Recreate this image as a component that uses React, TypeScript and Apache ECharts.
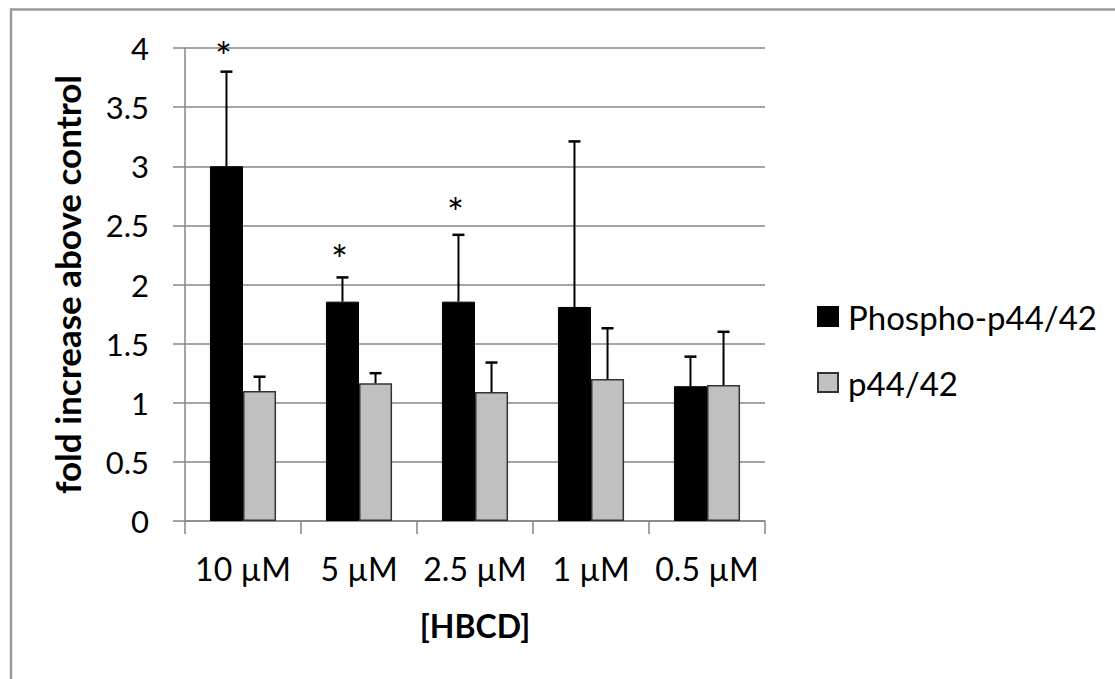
import React, { useEffect, useRef } from "react";
import * as echarts from "echarts";

const categories = ["10 µM", "5 µM", "2.5 µM", "1 µM", "0.5 µM"];
const phosphoValues = [3.0, 1.855, 1.855, 1.81, 1.14];
const phosphoErrors = [0.8, 0.205, 0.565, 1.4, 0.25];
const totalValues = [1.1, 1.165, 1.09, 1.2, 1.15];
const totalErrors = [0.12, 0.085, 0.25, 0.43, 0.45];
const significance = [4.0, 2.285, 2.68, null, null];
const yTicks = { min: 0, max: 4, interval: 0.5 };

const FONT = "Lato, 'Open Sans', sans-serif";
const CAT_GAP = 0.43;
const STAR_SIZE = 40;

function errorSeries(id: string, means: number[], errs: number[], side: number) {
  return {
    type: "custom",
    id,
    silent: true,
    z: 5,
    data: means.map((m, i) => [i, m, m + errs[i]]),
    encode: { x: 0, y: [1, 2] },
    renderItem: (_p: any, api: any) => {
      const i = api.value(0);
      const base = api.coord([i, api.value(1)]);
      const top = api.coord([i, api.value(2)]);
      const band = api.size([1, 0])[0];
      const bw = (band * (1 - CAT_GAP)) / 2;
      const x = base[0] + (side * bw) / 2;
      const cap = 6;
      return {
        type: "group",
        children: [
          { type: "line", shape: { x1: x, y1: base[1], x2: x, y2: top[1] }, style: { stroke: "#000", lineWidth: 2 } },
          { type: "line", shape: { x1: x - cap, y1: top[1], x2: x + cap, y2: top[1] }, style: { stroke: "#000", lineWidth: 2.5 } },
        ],
      };
    },
  };
}

export default function App() {
  const ref = useRef<HTMLDivElement>(null);
  useEffect(() => {
    document.body.style.margin = "0";
    const chart = echarts.init(ref.current!, undefined, { renderer: "svg" });
    const starData = significance
      .map((v, i) => (v == null ? null : [i, v]))
      .filter((d) => d != null);
    chart.setOption({
      animation: false,
      backgroundColor: "#fff",
      textStyle: { fontFamily: FONT },
      graphic: [
        {
          type: "polyline",
          shape: { points: [[11, 679], [11, 9.5], [1115, 9.5]] },
          style: { stroke: "#9a9a9a", lineWidth: 2.5, fill: "none" },
          silent: true,
        },
      ],
      grid: { left: 185, right: 1115 - 765, top: 48, bottom: 679 - 521 },
      legend: {
        orient: "vertical",
        left: 812,
        top: 295,
        itemWidth: 20,
        itemHeight: 19,
        itemGap: 33,
        icon: "rect",
        selectedMode: false,
        data: ["Phospho-p44/42", "p44/42"],
        textStyle: { fontFamily: FONT, fontSize: 33, color: "#000", padding: [0, 0, 0, 5] },
      },
      xAxis: {
        type: "category",
        data: categories,
        name: "[HBCD]",
        nameLocation: "middle",
        nameGap: 88,
        nameTextStyle: { fontFamily: FONT, fontSize: 32, fontWeight: "bold", color: "#000" },
        axisLine: { lineStyle: { color: "#868686", width: 1.5 } },
        axisTick: { show: true, length: 13, lineStyle: { color: "#868686", width: 1.5 } },
        axisLabel: { interval: 0, margin: 31, fontFamily: FONT, fontSize: 32, color: "#000" },
      },
      yAxis: {
        type: "value",
        min: yTicks.min,
        max: yTicks.max,
        interval: yTicks.interval,
        name: "fold increase above control",
        nameLocation: "middle",
        nameGap: 101,
        nameTextStyle: { fontFamily: FONT, fontSize: 35, fontWeight: "bold", color: "#000" },
        axisLine: { show: true, lineStyle: { color: "#868686", width: 1.5 } },
        axisTick: { show: true, length: 12, lineStyle: { color: "#868686", width: 1.5 } },
        axisLabel: { margin: 36, fontFamily: FONT, fontSize: 31, color: "#000" },
        splitLine: { lineStyle: { color: "#868686", width: 1.5 } },
      },
      series: [
        {
          type: "bar",
          name: "Phospho-p44/42",
          data: phosphoValues,
          barGap: "0%",
          barCategoryGap: CAT_GAP * 100 + "%",
          itemStyle: { color: "#000", borderColor: "#000", borderWidth: 1 },
        },
        {
          type: "bar",
          name: "p44/42",
          data: totalValues,
          barGap: "0%",
          barCategoryGap: CAT_GAP * 100 + "%",
          itemStyle: { color: "#c0c0c0", borderColor: "#333", borderWidth: 1.5 },
        },
        errorSeries("err-phospho", phosphoValues, phosphoErrors, -1),
        errorSeries("err-total", totalValues, totalErrors, 1),
        {
          type: "custom",
          id: "stars",
          silent: true,
          z: 6,
          data: starData,
          encode: { x: 0, y: 1 },
          renderItem: (_p: any, api: any) => {
            const i = api.value(0);
            const pt = api.coord([i, api.value(1)]);
            const band = api.size([1, 0])[0];
            const bw = (band * (1 - CAT_GAP)) / 2;
            return {
              type: "text",
              x: pt[0] - bw / 2 - 3,
              y: pt[1] + STAR_SIZE * 0.22,
              style: {
                text: "*",
                fontFamily: FONT,
                fontSize: STAR_SIZE,
                fill: "#000",
                align: "center",
                verticalAlign: "middle",
              },
            };
          },
        },
      ],
    });
    return () => chart.dispose();
  }, []);
  return <div ref={ref} style={{ width: 1115, height: 679 }} />;
}
